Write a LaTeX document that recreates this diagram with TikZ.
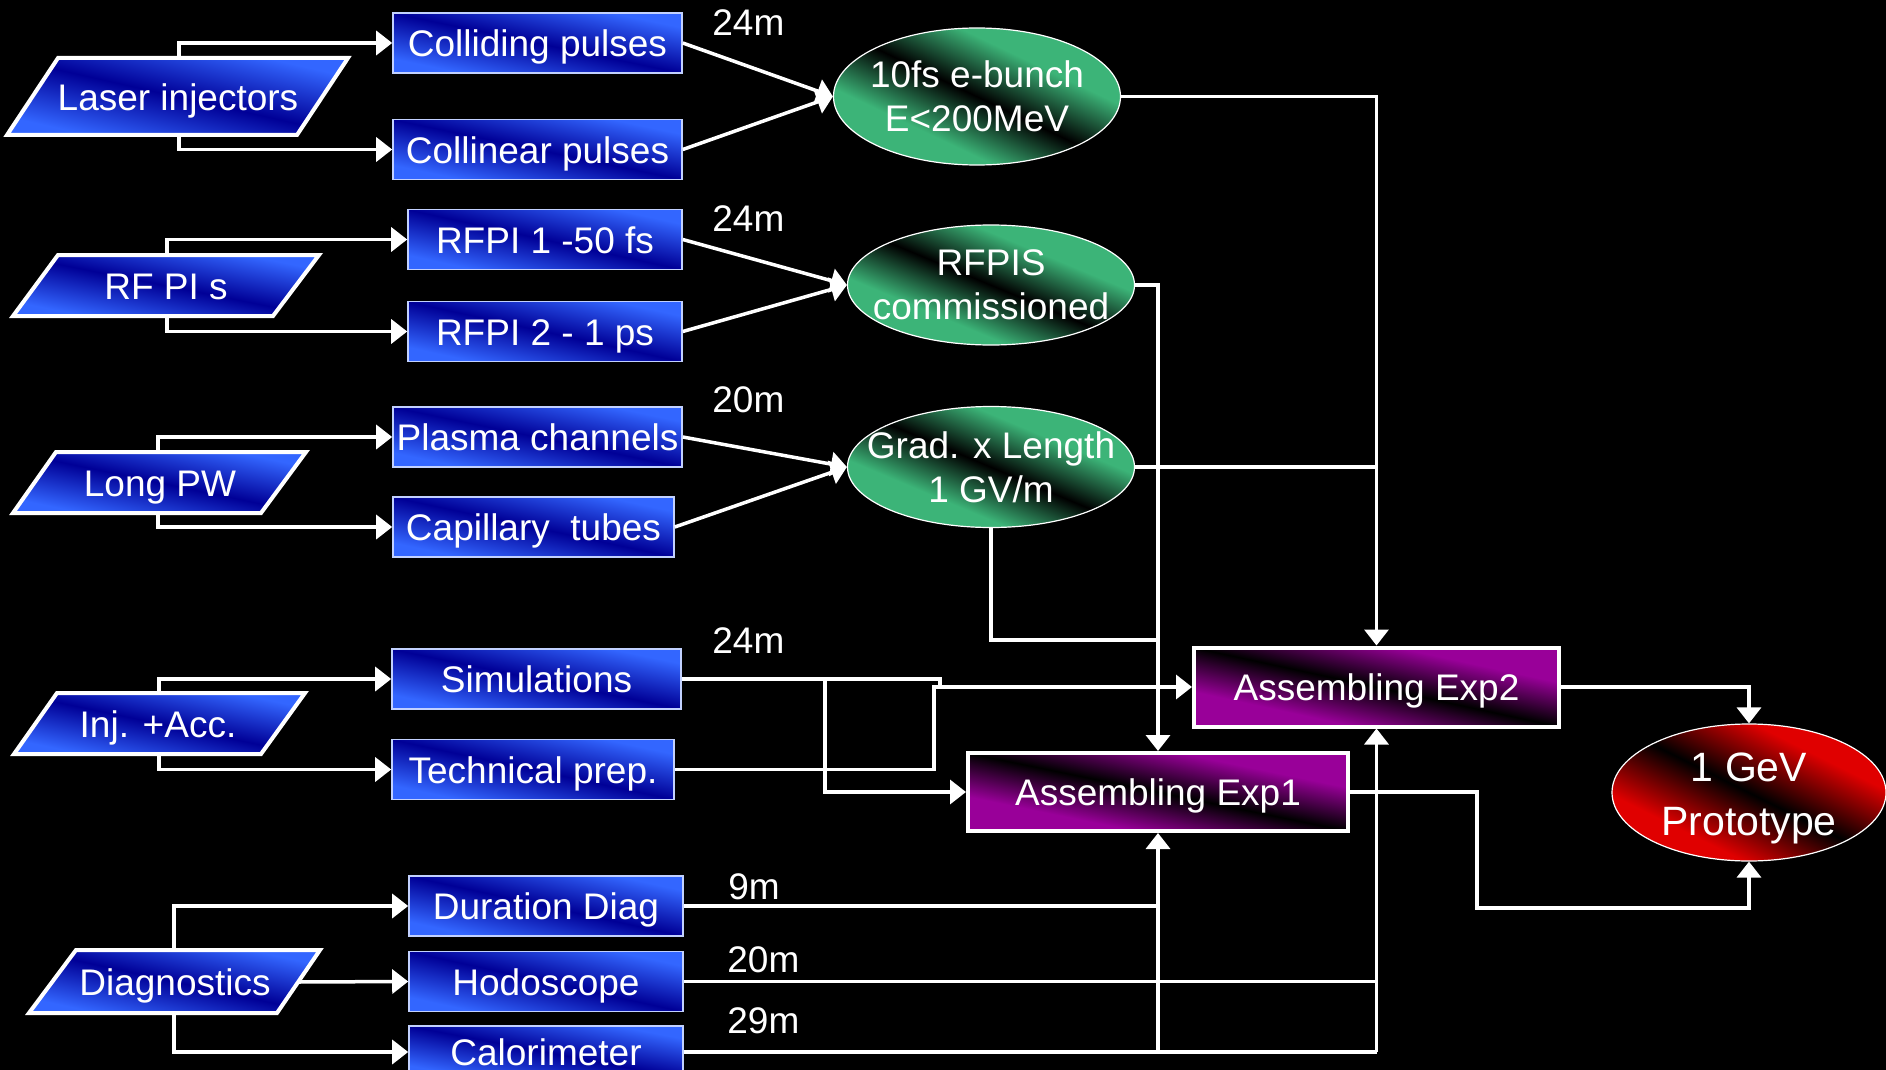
\documentclass[tikz,border=0pt]{standalone}
\usepackage{fontspec}
\setmainfont{Liberation Sans}
\usetikzlibrary{arrows.meta,shapes.geometric}
% diagonal band shadings: dark along the top-left to bottom-right diagonal
\pgfdeclarefunctionalshading{bluefn}{\pgfpoint{-50bp}{-50bp}}{\pgfpoint{50bp}{50bp}}{}{%
  add abs 38 div dup 1 gt {pop 1} if
  dup 0.2 mul exch dup 0.4 mul exch 0.41 mul 0.59 add}
\pgfdeclarefunctionalshading{greenfn}{\pgfpoint{-50bp}{-50bp}}{\pgfpoint{50bp}{50bp}}{}{%
  add abs 22 div dup 1 gt {pop 1} if
  dup 0.235 mul exch dup 0.706 mul exch 0.47 mul}
\pgfdeclarefunctionalshading{purplefn}{\pgfpoint{-50bp}{-50bp}}{\pgfpoint{50bp}{50bp}}{}{%
  add abs 28 div dup 1 gt {pop 1} if
  dup 0.6 mul exch dup 0 mul exch 0.6 mul}
\pgfdeclarefunctionalshading{redfn}{\pgfpoint{-50bp}{-50bp}}{\pgfpoint{50bp}{50bp}}{}{%
  add abs 26 div dup 1 gt {pop 1} if
  dup 0.88 mul exch dup 0 mul exch 0 mul}
\definecolor{lb}{RGB}{51,102,255}
\begin{document}
\begin{tikzpicture}[x=0.5pt,y=-0.5pt,
  font=\fontsize{18.5pt}{21pt}\selectfont,
  conn/.style={draw=white, line width=1.75pt},
  arr/.style={conn, -{Triangle[length=8pt,width=12pt]}},
  fixtext/.style={text height=13.5pt, text depth=0pt},
  bbox/.style={rectangle, draw=white!70!lb, line width=0.8pt, shade, shading=bluefn, text=white, inner sep=0pt, minimum height=30pt, fixtext},
  para/.style={draw=white, line width=2pt, shade, shading=bluefn},
  ptext/.style={text=white, inner sep=0pt, fixtext},
  gell/.style={ellipse, draw=white, line width=0.6pt, shade, shading=greenfn, inner sep=0pt, minimum width=143.5pt},
  rell/.style={ellipse, draw=white, line width=0.6pt, shade, shading=redfn, inner sep=0pt},
  etext/.style={text=white, align=center, inner sep=0pt, font=\fontsize{18.5pt}{22pt}\selectfont},
  ebox/.style={rectangle, draw=white, line width=2pt, shade, shading=purplefn, text=white, inner sep=0pt, fixtext},
  lbl/.style={text=white, anchor=west, inner sep=0pt}]
\useasboundingbox (0,0) rectangle (1886,1070);
\fill[black] (0,0) rectangle (1886,1070);

% parallelograms
\draw[para] (58,58) -- (348,58) -- (297,135) -- (7,135) -- cycle;
\draw[para] (58,255) -- (319,255) -- (273,316) -- (13,316) -- cycle;
\draw[para] (56,452) -- (306,452) -- (261,513) -- (13,513) -- cycle;
\draw[para] (57,693) -- (305,693) -- (261,754) -- (14,754) -- cycle;
\draw[para] (76,950) -- (320,950) -- (277,1013) -- (29,1013) -- cycle;
\node[ptext] (li) at (178,97) {Laser injectors};
\node[ptext] (rf) at (166,286) {RF PI s};
\node[ptext] (lp) at (160,483) {Long PW};
\node[ptext] (ia) at (158,724) {Inj. +Acc.};
\node[ptext] (dg) at (175,982) {Diagnostics};
\coordinate (li-t) at (179,58);  \coordinate (li-b) at (179,135);
\coordinate (rf-t) at (167,255); \coordinate (rf-b) at (167,316);
\coordinate (lp-t) at (158,452); \coordinate (lp-b) at (158,513);
\coordinate (ia-t) at (159,693); \coordinate (ia-b) at (159,754);
\coordinate (dg-t) at (174,950); \coordinate (dg-r) at (299,982); \coordinate (dg-b) at (174,1013);

% boxes
\node[bbox, minimum width=144.5pt] (cp) at (537.5,43) {Colliding pulses};
\node[bbox, minimum width=144.5pt] (cl) at (537.5,149.5) {Collinear pulses};
\node[bbox, minimum width=137pt] (r1) at (545,239.5) {RFPI 1 -50 fs};
\node[bbox, minimum width=137pt] (r2) at (545,331.5) {RFPI 2 - 1 ps};
\node[bbox, minimum width=144.5pt] (pc) at (537.5,437) {Plasma channels};
\node[bbox, minimum width=140.5pt] (ct) at (533.5,527) {Capillary\ \ tubes};
\node[bbox, minimum width=144.5pt] (si) at (536.5,679) {Simulations};
\node[bbox, minimum width=141pt] (tp) at (533,769.5) {Technical prep.};
\node[bbox, minimum width=137pt] (dd) at (546,906) {Duration Diag};
\node[bbox, minimum width=137pt] (ho) at (546,981.5) {Hodoscope};
\node[bbox, minimum width=137pt, minimum height=26pt] (ca) at (546,1052) {Calorimeter};

% ellipses
\node[gell, minimum height=68.5pt] (eb) at (977,96.5) {};
\node[gell, minimum height=60pt] (rs) at (991,285) {};
\node[gell, minimum height=60.5pt] (gl) at (991,467) {};
\node[rell, minimum width=137pt, minimum height=68.5pt] (pr) at (1749,792.5) {};

% assembling boxes
\node[ebox, minimum width=182.5pt, minimum height=39.5pt] (e2) at (1376.5,687) {Assembling Exp2};
\node[ebox, minimum width=190pt, minimum height=39pt] (e1) at (1158,792) {Assembling Exp1};

% junctions
\coordinate (gj) at (1158,640);
\coordinate (sjx) at (940,687);
\coordinate (tjx) at (934,687);
\coordinate (bx) at (825,679);
\coordinate (pj) at (1477,908);

% connectors from sources
\draw[arr] (li-t) |- (cp.west);
\draw[arr] (li-b) |- (cl.west);
\draw[arr] (rf-t) |- (r1.west);
\draw[arr] (rf-b) |- (r2.west);
\draw[arr] (lp-t) |- (pc.west);
\draw[arr] (lp-b) |- (ct.west);
\draw[arr] (ia-t) |- (si.west);
\draw[arr] (ia-b) |- (tp.west);
\draw[arr] (dg-t) |- (dd.west);
\draw[arr] (dg-r) -- (ho.west);
\draw[arr] (dg-b) |- (ca.west);

% into ellipses
\draw[arr] (cp.east) -- (eb.west);
\draw[arr] (cl.east) -- (eb.west);
\draw[arr] (r1.east) -- (rs.west);
\draw[arr] (r2.east) -- (rs.west);
\draw[arr] (pc.east) -- (gl.west);
\draw[arr] (ct.east) -- (gl.west);

% to assembling
\draw[arr] (eb.east) -| (e2.north);
\draw[conn] (gl.east) -- (gl.east -| e2.north);
\draw[arr] (rs.east) -| (e1.north);
\draw[conn] (gl.south) |- (gj);
\draw[conn] (si.east) -| (sjx);
\draw[arr] (tp.east) -| (tjx) -- (e2.west);
\draw[arr] (bx) |- (e1.west);
\draw[conn] (dd.east) -- (dd.east -| e1.south);
\draw[conn] (ho.east) -- (ho.east -| e2.south);
\draw[conn] (ca.east) -- (ca.east -| e2.south);
\draw[arr] (ca.east -| e1.south) -- (e1.south);
\draw[arr] (ca.east -| e2.south) -- (e2.south);

% to prototype
\draw[arr] (e2.east) -| (pr.north);
\draw[arr] (e1.east) -| (pj) -| (pr.south);

% ellipse texts
\node[etext] at (eb) {10fs e-bunch\\E<200MeV};
\node[etext] at (rs) {RFPIS\\commissioned};
\node[etext] at (gl) {Grad. x Length\\1 GV/m};
\node[etext, font=\fontsize{20.5pt}{27pt}\selectfont] at (1749,798) {1 GeV\\Prototype};

% labels
\node[lbl] (m1) at (712,23) {24m};
\node[lbl] (m2) at (712,219) {24m};
\node[lbl] (m3) at (712,400) {20m};
\node[lbl] (m4) at (712,641) {24m};
\node[lbl] (m5) at (728,887) {9m};
\node[lbl] (m6) at (727,960) {20m};
\node[lbl] (m7) at (727,1021) {29m};
\end{tikzpicture}
\end{document}
